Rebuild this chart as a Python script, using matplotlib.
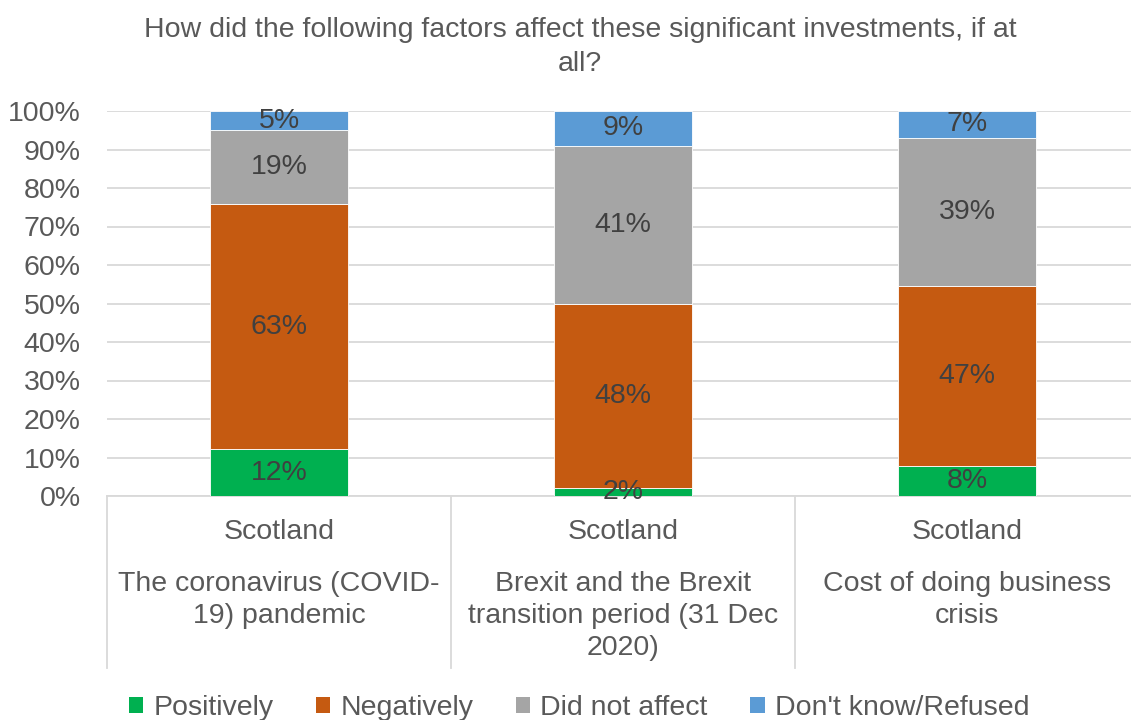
import matplotlib
matplotlib.use("Agg")
import matplotlib.pyplot as plt
from matplotlib.patches import Patch
import numpy as np

plt.rcParams['font.family'] = ['Liberation Sans', 'DejaVu Sans']

# --- datos ---
region = ["Scotland", "Scotland", "Scotland"]
factors = ["The coronavirus (COVID-\n19) pandemic",
           "Brexit and the Brexit\ntransition period (31 Dec\n2020)",
           "Cost of doing business\ncrisis"]
series = ["Positively", "Negatively", "Did not affect", "Don't know/Refused"]
positively = [12, 2, 8]
negatively = [63, 48, 47]
not_affect = [19, 41, 39]
dont_know = [5, 9, 7]
colors = ["#00B050", "#C55A11", "#A5A5A5", "#5B9BD5"]

title = "How did the following factors affect these significant investments, if at\nall?"

FS = 20.5

# --- figura ---
fig = plt.figure(figsize=(11.31, 7.2), dpi=100)
ax = fig.add_axes([107 / 1131, 1 - 496 / 720, 1032 / 1131, 385 / 720])

vals = np.array([positively, negatively, not_affect, dont_know], dtype=float)
pct = vals / vals.sum(axis=0)  # 100% apilado, como Excel
x = np.arange(len(factors))
bottom = np.zeros(len(factors))
for i, name in enumerate(series):
    ax.bar(x, pct[i], 0.4, bottom=bottom, color=colors[i], zorder=3,
           edgecolor="white", linewidth=0.6)
    for j in range(len(x)):
        ax.text(x[j], bottom[j] + pct[i][j] / 2, f"{int(vals[i][j])}%",
                ha="center", va="center", fontsize=FS, color="#404040", zorder=4)
    bottom += pct[i]

ax.set_xlim(-0.5, 2.5)
ax.set_ylim(0, 1)
ax.set_yticks(np.arange(0, 1.01, 0.1))
ax.set_yticklabels([f"{int(round(v * 100))}%" for v in np.arange(0, 1.01, 0.1)])
ax.tick_params(axis="y", length=0, labelsize=FS, labelcolor="#595959", pad=19)
ax.set_xticks([])
ax.grid(axis="y", color="#D9D9D9", linewidth=1.3, zorder=0)
for s in ax.spines.values():
    s.set_visible(False)

# eje de categorias multinivel
tr = ax.get_xaxis_transform()
ax.plot([-0.5, 2.5], [0, 0], color="#D9D9D9", lw=1.3, transform=tr, clip_on=False, zorder=2)
for xs in [-0.5, 0.5, 1.5]:
    ax.plot([xs, xs], [0, -172 / 385], color="#D9D9D9", lw=1.3, transform=tr, clip_on=False)
for j in range(len(x)):
    ax.text(x[j], -36 / 385, region[j], transform=tr, ha="center", va="center",
            fontsize=FS, color="#595959")
    ax.text(x[j], -75 / 385, factors[j], transform=tr, ha="center", va="top",
            fontsize=FS, color="#595959", linespacing=1.3)

fig.text(0.513, 1 - 17 / 720, title, ha="center", va="top", fontsize=FS,
         color="#595959", linespacing=1.4)

handles = [Patch(facecolor=c, edgecolor="none") for c in colors]
fig.legend(handles, series, loc="lower center", bbox_to_anchor=(0.512, -0.037), ncol=4,
           frameon=False, fontsize=FS, labelcolor="#595959", handlelength=0.5,
           handleheight=0.5, handletextpad=0.35, columnspacing=1.5)

fig.savefig("out.png", dpi=100)
